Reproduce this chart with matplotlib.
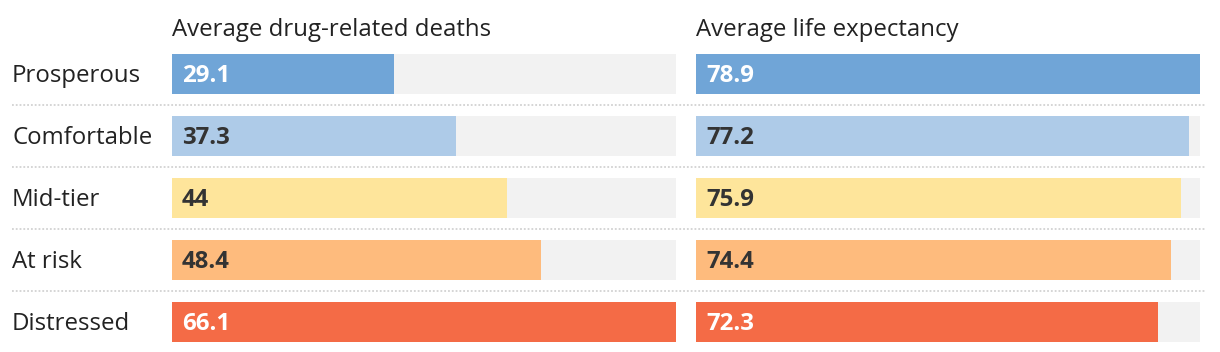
import matplotlib
matplotlib.use("Agg")
import matplotlib.pyplot as plt
from matplotlib.lines import Line2D
from matplotlib.transforms import blended_transform_factory, offset_copy

plt.rcParams['font.family'] = ['Open Sans', 'DejaVu Sans']

# ==== DATA ====
categories = ["Prosperous", "Comfortable", "Mid-tier", "At risk", "Distressed"]
drug_deaths = [29.1, 37.3, 44, 48.4, 66.1]
life_expectancy = [78.9, 77.2, 75.9, 74.4, 72.3]
titles = ["Average drug-related deaths", "Average life expectancy"]

colors = ["#70a5d7", "#aecbe8", "#fee59b", "#febb7d", "#f46b46"]
text_colors = ["white", "#333333", "#333333", "#333333", "white"]
bg_color = "#f2f2f2"

W, H = 1220, 352
fig = plt.figure(figsize=(W / 100, H / 100), dpi=100)

bar_h = 40 / 62
y_lo, y_hi = -bar_h / 2, len(categories) - 1 + bar_h / 2
bottom = 1 - 342 / H
top = 1 - 54 / H
fs = 17.3
base_shift = -8.5  # px, puts the cap-height middle on the row centre

axes = []
for i, (vals, title) in enumerate(zip([drug_deaths, life_expectancy], titles)):
    x0 = (172 if i == 0 else 696) / W
    ax = fig.add_axes([x0, bottom, 504 / W, top - bottom])
    vmax = max(vals)
    ys = list(range(len(categories)))
    ax.barh(ys, [vmax] * len(vals), height=bar_h, color=bg_color, zorder=1)
    ax.barh(ys, vals, height=bar_h, color=colors, zorder=2)
    tr = offset_copy(ax.transData, fig=fig, y=base_shift, units="dots")
    for y, v, tc in zip(ys, vals, text_colors):
        ax.text(vmax * 10 / 504, y, f"{v:g}", transform=tr, ha="left", va="baseline",
                fontsize=fs, fontweight="bold", color=tc, zorder=3)
    ax.set_xlim(0, vmax)
    ax.set_ylim(y_hi, y_lo)
    ax.axis("off")
    fig.text(x0, 1 - 36 / H, title, ha="left", va="baseline",
             fontsize=fs, color="#222222")
    axes.append(ax)

# category labels
trans = blended_transform_factory(fig.transFigure, axes[0].transData)
lab_tr = offset_copy(trans, fig=fig, y=base_shift, units="dots")
for y, cat in enumerate(categories):
    fig.text(12 / W, y, cat, transform=lab_tr, ha="left", va="baseline",
             fontsize=fs, color="#222222")

# dotted separators
for y in range(len(categories) - 1):
    fig.add_artist(Line2D([12 / W, 1205 / W], [y + 0.5, y + 0.5], transform=trans,
                          color="#d2d2d2", lw=1.3, linestyle=(0, (1, 1.1))))

fig.savefig("out.png", dpi=100)
